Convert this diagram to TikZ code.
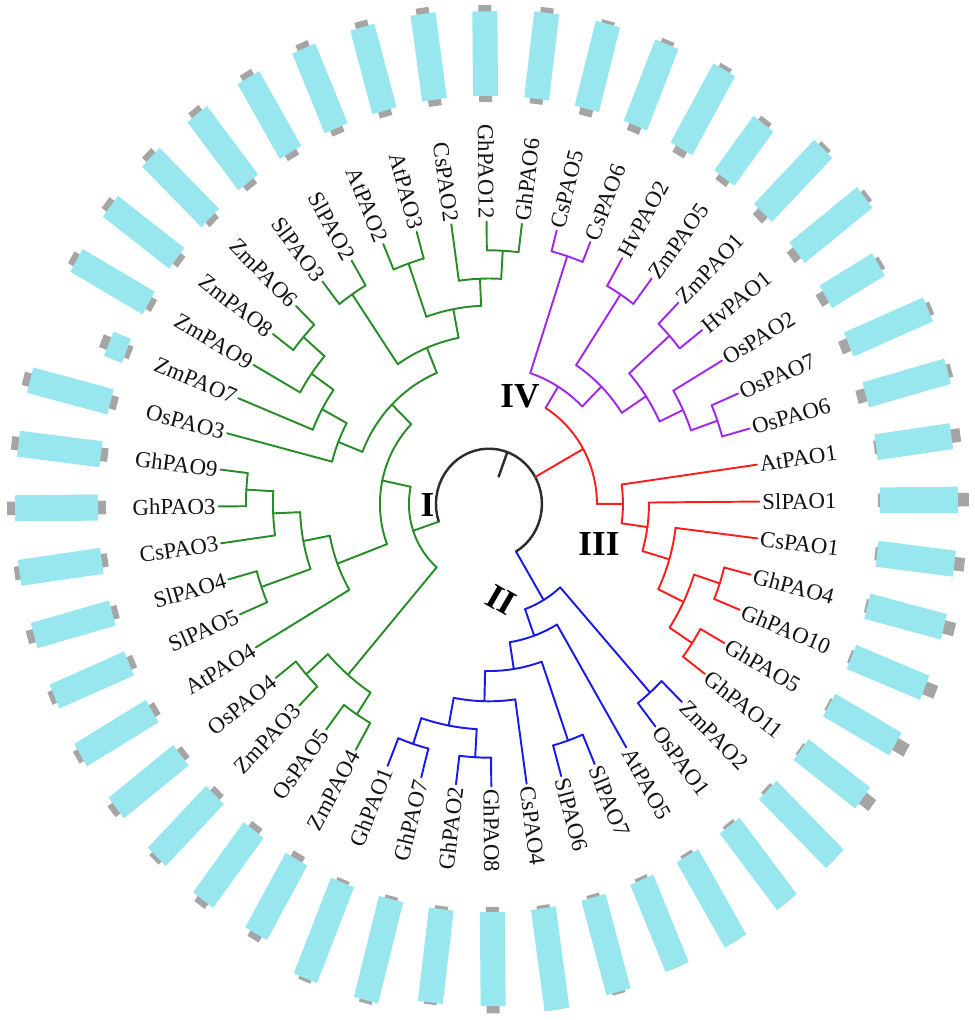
\documentclass[tikz,border=0pt]{standalone}
\usepackage{fontspec}
\setmainfont{Liberation Serif}
\definecolor{tgreen}{RGB}{40,140,40}
\definecolor{tpurple}{RGB}{160,40,235}
\definecolor{tred}{RGB}{250,30,30}
\definecolor{tblue}{RGB}{25,25,235}
\definecolor{tblack}{RGB}{45,45,45}
\definecolor{barcyan}{RGB}{152,230,238}
\definecolor{capgray}{RGB}{165,165,165}
\tikzset{
  br/.style={line width=1.1pt, line cap=round, line join=round},
  leaf/.style={font=\fontsize{13}{15}\selectfont, inner sep=1.5pt, text=black!92},
  clade/.style={font=\fontsize{20}{22}\selectfont\bfseries, inner sep=0pt},
}
\newcommand\Arc[4]{\draw[#1] plot[domain=#3:#4, samples=40] (\x:#2);}
\newcommand\Rad[4]{\draw[#1] (#2:#3) -- (#2:#4);}
\newcommand\Leaf[4]{%
  \pgfmathsetmacro\lfc{cos(#2)}%
  \pgfmathsetmacro\lfv{atan2(1.044*sin(#2),cos(#2))}%
  \ifdim\lfc pt<0pt
    \pgfmathsetmacro\lfr{\lfv+180}\def\lfa{east}%
  \else
    \let\lfr\lfv\def\lfa{west}%
  \fi
  \node[leaf,anchor=\lfa,rotate=\lfr] (#1) at (#2:270.5) {#1};
  \draw[br,#3] (#2:#4) -- (#1.\lfa);
}
\newcommand\GeneBar[4]{%
  \pgfmathsetmacro\gbang{75.5-7.5*#1}%
  \begin{scope}[rotate=\gbang]
    \fill[capgray] ({391-#3},-6.5) rectangle (391.5,6.5);
    \fill[capgray] ({#2-0.5},-6.5) rectangle ({#2+#4},6.5);
    \fill[barcyan] (391,-12.5) rectangle (#2,12.5);
  \end{scope}}
\begin{document}
\begin{tikzpicture}[x=0.02cm, y=0.02cm, yscale=1.044]
\useasboundingbox (-489,-494.3) rectangle (486,482.8);
% gene bars
\foreach \i/\ro/\ci/\co in {0/475/7/3,1/475/7/4,2/478/7/4,3/456/6/5,4/477/8/4,5/477/8/4,6/452/8/4,7/477/9/4,8/476/9/4,
  9/467/2/9,10/469/2/11,11/469/2/10,12/470/2/11,13/470/2/12,14/467/2/13,15/468/2/12,
  16/485/3/0,17/484/3/0,18/486/3/0,19/482/3/0,20/485/3/2,21/489/3/0,22/481/5/7,23/481/3/2,24/491/3/3,25/490/3/3,
  26/473/6/6,27/475/6/6,28/474/6/4,29/473/6/6,30/474/6/5,31/472/6/5,32/472/6/7,33/474/6/5,34/474/8/8,35/474/7/7,36/474/7/7,
  37/410/5/8,38/474/6/6,39/474/6/6,40/474/6/6,41/474/6/6,42/474/6/6,43/474/6/6,44/474/6/6,45/474/6/6,46/472/6/6,47/474/5/5}
  {\GeneBar{\i}{\ro}{\ci}{\co}}
% root
\Arc{br,tblack,line width=1.4pt}{53}{-59.27}{198.66}
\Rad{br,tblack,line width=1.4pt}{69.7}{28}{53}
% clade I
\Rad{br,tgreen}{198.66}{53}{80}
\Arc{br,tgreen}{80}{168.08}{229.25}
\Rad{br,tgreen}{168.08}{80}{109}
\Arc{br,tgreen}{109}{135.5}{200.66}
\Rad{br,tgreen}{229.25}{80}{216}
\Arc{br,tgreen}{216}{221.75}{236.75}
\Rad{br,tgreen}{221.75}{216}{245}
\Arc{br,tgreen}{245}{218}{225.5}
\Rad{br,tgreen}{236.75}{216}{241}
\Arc{br,tgreen}{241}{233}{240.5}
\Rad{br,tgreen}{200.66}{109}{162}
\Arc{br,tgreen}{162}{190.81}{210.5}
\Rad{br,tgreen}{190.81}{162}{189}
\Arc{br,tgreen}{189}{182.375}{199.25}
\Rad{br,tgreen}{199.25}{189}{241}
\Arc{br,tgreen}{241}{195.5}{203}
\Rad{br,tgreen}{182.375}{189}{216}
\Arc{br,tgreen}{216}{176.75}{188}
\Rad{br,tgreen}{176.75}{216}{243}
\Arc{br,tgreen}{243}{173}{180.5}
\Rad{br,tgreen}{135.5}{109}{136}
\Arc{br,tgreen}{136}{112.53}{158.47}
\Rad{br,tgreen}{158.47}{136}{162}
\Arc{br,tgreen}{162}{151.44}{165.5}
\Rad{br,tgreen}{151.44}{162}{190}
\Arc{br,tgreen}{190}{144.875}{158}
\Rad{br,tgreen}{144.875}{190}{217}
\Arc{br,tgreen}{217}{139.25}{150.5}
\Rad{br,tgreen}{139.25}{217}{245}
\Arc{br,tgreen}{245}{135.5}{143}
\Rad{br,tgreen}{112.53}{136}{162}
\Arc{br,tgreen}{162}{100.81}{124.25}
\Rad{br,tgreen}{124.25}{162}{243}
\Arc{br,tgreen}{243}{120.5}{128}
\Rad{br,tgreen}{100.81}{162}{190}
\Arc{br,tgreen}{190}{92.375}{109.25}
\Rad{br,tgreen}{109.25}{190}{244}
\Arc{br,tgreen}{244}{105.5}{113}
\Rad{br,tgreen}{92.375}{190}{216}
\Arc{br,tgreen}{216}{86.75}{98}
\Rad{br,tgreen}{86.75}{216}{243}
\Arc{br,tgreen}{243}{83}{90.5}
% clades III + IV
\Rad{br,tred}{29.21}{53}{108}
\Arc{br,tred}{108}{0.03}{58.39}
\Rad{br,tpurple}{58.39}{108}{132}
\Arc{br,tpurple}{132}{45.03}{71.75}
\Rad{br,tpurple}{71.75}{132}{250}
\Arc{br,tpurple}{250}{68}{75.5}
\Rad{br,tpurple}{45.03}{132}{159}
\Arc{br,tpurple}{159}{33.31}{56.75}
\Rad{br,tpurple}{56.75}{159}{240}
\Arc{br,tpurple}{240}{53}{60.5}
\Rad{br,tpurple}{33.31}{159}{188}
\Arc{br,tpurple}{188}{24.875}{41.75}
\Rad{br,tpurple}{41.75}{188}{242}
\Arc{br,tpurple}{242}{38}{45.5}
\Rad{br,tpurple}{24.875}{188}{214}
\Arc{br,tpurple}{214}{19.25}{30.5}
\Rad{br,tpurple}{19.25}{214}{242}
\Arc{br,tpurple}{242}{15.5}{23}
\Rad{br,tred}{0.03}{108}{134}
\Arc{br,tred}{134}{-7.94}{8}
\Rad{br,tred}{-7.94}{134}{160}
\Arc{br,tred}{160}{-16.375}{0.5}
\Rad{br,tred}{-16.375}{160}{188}
\Arc{br,tred}{188}{-25.75}{-7}
\Rad{br,tred}{-25.75}{188}{216}
\Arc{br,tred}{216}{-33.25}{-18.25}
\Rad{br,tred}{-18.25}{216}{243}
\Arc{br,tred}{243}{-22}{-14.5}
\Rad{br,tred}{-33.25}{216}{243}
\Arc{br,tred}{243}{-37}{-29.5}
% clade II
\Rad{br,tblue}{-59.27}{53}{107}
\Arc{br,tblue}{107}{-70.28}{-48.25}
\Rad{br,tblue}{-48.25}{107}{242}
\Arc{br,tblue}{242}{-52}{-44.5}
\Rad{br,tblue}{-70.28}{107}{134}
\Arc{br,tblue}{134}{-81.06}{-59.5}
\Rad{br,tblue}{-81.06}{134}{160}
\Arc{br,tblue}{160}{-91.375}{-70.75}
\Rad{br,tblue}{-70.75}{160}{240}
\Arc{br,tblue}{240}{-74.5}{-67}
\Rad{br,tblue}{-91.375}{160}{189}
\Arc{br,tblue}{189}{-100.75}{-82}
\Rad{br,tblue}{-100.75}{189}{216}
\Arc{br,tblue}{216}{-108.25}{-93.25}
\Rad{br,tblue}{-93.25}{216}{243}
\Arc{br,tblue}{243}{-97}{-89.5}
\Rad{br,tblue}{-108.25}{216}{242}
\Arc{br,tblue}{242}{-112}{-104.5}
% leaves
\Leaf{CsPAO5}{75.5}{tpurple}{250}
\Leaf{CsPAO6}{68}{tpurple}{250}
\Leaf{HvPAO2}{60.5}{tpurple}{240}
\Leaf{ZmPAO5}{53}{tpurple}{240}
\Leaf{ZmPAO1}{45.5}{tpurple}{242}
\Leaf{HvPAO1}{38}{tpurple}{242}
\Leaf{OsPAO2}{30.5}{tpurple}{214}
\Leaf{OsPAO7}{23}{tpurple}{242}
\Leaf{OsPAO6}{15.5}{tpurple}{242}
\Leaf{AtPAO1}{8}{tred}{134}
\Leaf{SlPAO1}{0.5}{tred}{160}
\Leaf{CsPAO1}{-7}{tred}{188}
\Leaf{GhPAO4}{-14.5}{tred}{243}
\Leaf{GhPAO10}{-22}{tred}{243}
\Leaf{GhPAO5}{-29.5}{tred}{243}
\Leaf{GhPAO11}{-37}{tred}{243}
\Leaf{ZmPAO2}{-44.5}{tblue}{242}
\Leaf{OsPAO1}{-52}{tblue}{242}
\Leaf{AtPAO5}{-59.5}{tblue}{134}
\Leaf{SlPAO7}{-67}{tblue}{240}
\Leaf{SlPAO6}{-74.5}{tblue}{240}
\Leaf{CsPAO4}{-82}{tblue}{189}
\Leaf{GhPAO8}{-89.5}{tblue}{243}
\Leaf{GhPAO2}{-97}{tblue}{243}
\Leaf{GhPAO7}{-104.5}{tblue}{242}
\Leaf{GhPAO1}{-112}{tblue}{242}
\Leaf{ZmPAO4}{240.5}{tgreen}{241}
\Leaf{OsPAO5}{233}{tgreen}{241}
\Leaf{ZmPAO3}{225.5}{tgreen}{245}
\Leaf{OsPAO4}{218}{tgreen}{245}
\Leaf{AtPAO4}{210.5}{tgreen}{162}
\Leaf{SlPAO5}{203}{tgreen}{241}
\Leaf{SlPAO4}{195.5}{tgreen}{241}
\Leaf{CsPAO3}{188}{tgreen}{216}
\Leaf{GhPAO3}{180.5}{tgreen}{243}
\Leaf{GhPAO9}{173}{tgreen}{243}
\Leaf{OsPAO3}{165.5}{tgreen}{162}
\Leaf{ZmPAO7}{158}{tgreen}{190}
\Leaf{ZmPAO9}{150.5}{tgreen}{217}
\Leaf{ZmPAO8}{143}{tgreen}{245}
\Leaf{ZmPAO6}{135.5}{tgreen}{245}
\Leaf{SlPAO3}{128}{tgreen}{243}
\Leaf{SlPAO2}{120.5}{tgreen}{243}
\Leaf{AtPAO2}{113}{tgreen}{244}
\Leaf{AtPAO3}{105.5}{tgreen}{244}
\Leaf{CsPAO2}{98}{tgreen}{216}
\Leaf{GhPAO12}{90.5}{tgreen}{243}
\Leaf{GhPAO6}{83}{tgreen}{243}
% clade labels
\node[clade] (cIV) at (31,103.4) {IV};
\node[clade] (cI) at (-61.5,-1) {I};
\node[clade] (cIII) at (110,-38.3) {III};
\node[clade,rotate=-30] (cII) at (12,-92) {II};
\end{tikzpicture}
\end{document}
